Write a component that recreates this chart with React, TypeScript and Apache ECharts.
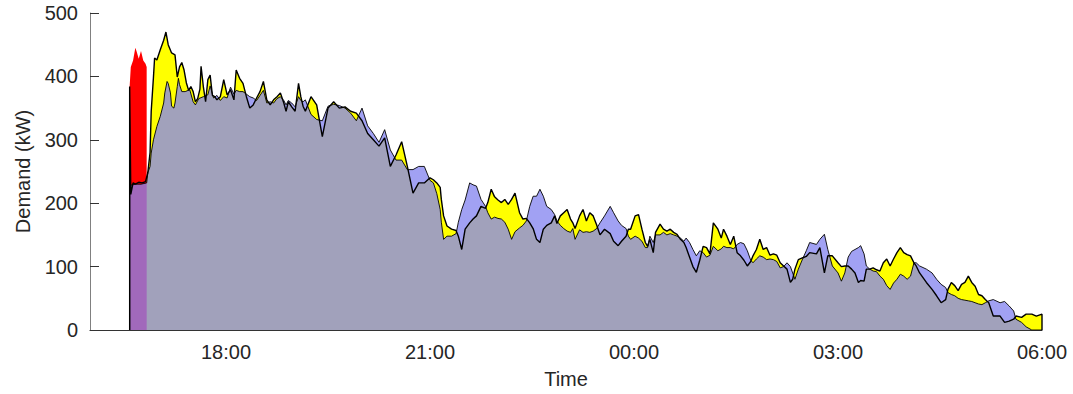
import { useEffect, useRef } from "react";
import * as echarts from "echarts";

// Readings are [minutes after 16:00, kW]

// Uncontrolled charging demand (yellow, black outline)
const demand: [number, number][] = [
  [35, 0], [35, 384], [36, 214], [38, 232], [40, 230], [43, 233], [46, 232], [49, 234], [51, 248], [53, 280],
  [54, 345], [56, 399], [57, 429], [59, 426], [62, 442], [65, 457], [67, 470], [69, 450], [72, 437], [75, 434],
  [77, 399], [79, 415], [81, 422], [83, 410], [85, 390], [87, 378], [89, 384], [91, 376], [93, 360], [95, 365],
  [97, 380], [98, 416], [100, 384], [102, 360], [104, 395], [106, 402], [108, 370], [110, 368], [112, 363], [115, 368],
  [118, 395], [121, 371], [124, 379], [127, 363], [129, 410], [132, 397], [135, 389], [138, 368], [141, 350], [144, 355],
  [147, 366], [150, 376], [153, 392], [156, 363], [159, 355], [162, 363], [165, 368], [168, 374], [171, 358], [173, 345],
  [175, 360], [178, 352], [181, 345], [184, 389], [186, 368], [188, 353], [190, 345], [195, 368], [200, 355], [205, 305],
  [210, 350], [215, 360], [220, 350], [225, 352], [230, 345], [235, 342], [240, 330], [245, 310], [250, 300], [255, 290],
  [260, 303], [265, 258], [270, 276], [275, 297], [280, 258], [285, 216], [290, 232], [295, 232], [300, 240], [303, 237],
  [306, 232], [309, 225], [310, 206], [312, 180], [315, 164], [319, 159], [323, 157], [325, 148], [328, 127], [331, 159],
  [335, 169], [338, 175], [341, 180], [345, 195], [349, 192], [351, 201], [354, 222], [357, 210], [360, 205], [363, 201],
  [366, 206], [369, 198], [372, 206], [375, 216], [379, 185], [382, 175], [385, 176], [388, 169], [391, 160], [394, 143],
  [397, 138], [400, 159], [403, 165], [407, 169], [410, 180], [412, 168], [415, 180], [418, 185], [421, 190], [424, 175],
  [426, 169], [428, 160], [432, 180], [435, 190], [438, 172], [441, 185], [444, 180], [447, 166], [450, 150], [454, 159],
  [459, 152], [462, 140], [466, 133], [469, 140], [473, 148], [475, 159], [477, 159], [481, 180], [484, 182], [487, 159],
  [490, 138], [492, 132], [494, 143], [497, 122], [499, 154], [503, 167], [506, 159], [509, 156], [512, 159], [515, 154],
  [518, 151], [521, 143], [524, 138], [526, 130], [529, 115], [532, 100], [535, 91], [538, 110], [541, 132], [544, 130],
  [547, 120], [550, 169], [554, 159], [557, 145], [559, 159], [562, 148], [565, 135], [568, 148], [571, 122], [574, 117],
  [577, 110], [580, 101], [583, 108], [585, 117], [588, 127], [591, 143], [594, 127], [597, 130], [600, 118], [603, 120],
  [606, 118], [609, 106], [612, 101], [615, 96], [618, 75], [620, 80], [622, 96], [625, 111], [629, 114], [632, 116],
  [635, 122], [641, 120], [644, 130], [648, 90], [651, 117], [655, 117], [660, 106], [663, 100], [666, 101], [669, 101],
  [672, 96], [675, 90], [678, 75], [680, 78], [683, 77], [685, 96], [688, 96], [691, 98], [694, 95], [697, 93],
  [700, 106], [703, 112], [706, 101], [709, 112], [712, 122], [715, 130], [718, 122], [721, 119], [724, 117], [727, 106],
  [729, 101], [732, 90], [738, 75], [743, 64], [747, 54], [751, 43], [755, 48], [757, 64], [760, 75], [763, 70],
  [766, 62], [769, 72], [772, 75], [775, 85], [778, 75], [781, 69], [784, 56], [787, 54], [790, 48], [793, 43],
  [797, 22], [803, 22], [807, 12], [811, 14], [815, 17], [817, 22], [822, 20], [826, 25], [831, 25], [835, 22],
  [840, 25], [840, 0],
];

// Managed charging demand (translucent blue, black outline)
const managed: [number, number][] = [
  [35, 0], [35, 228], [40, 230], [45, 230], [50, 232], [51, 248], [53, 258], [54, 279], [56, 300], [59, 321],
  [62, 337], [65, 358], [66, 374], [68, 392], [69, 389], [71, 374], [72, 353], [74, 350], [75, 358], [77, 384],
  [78, 397], [79, 387], [81, 376], [84, 376], [88, 379], [91, 360], [93, 355], [96, 365], [100, 368], [104, 371],
  [106, 385], [109, 366], [112, 370], [115, 362], [118, 368], [121, 366], [124, 383], [127, 372], [129, 378], [132, 376],
  [135, 376], [138, 372], [141, 368], [144, 366], [147, 362], [150, 370], [153, 378], [156, 358], [159, 360], [162, 358],
  [165, 365], [168, 368], [171, 362], [173, 355], [175, 362], [178, 358], [181, 352], [184, 368], [186, 362], [188, 360],
  [190, 363], [195, 340], [200, 332], [205, 330], [210, 353], [215, 356], [220, 354], [225, 350], [230, 342], [235, 330],
  [240, 350], [245, 322], [250, 310], [255, 296], [260, 316], [265, 284], [270, 268], [275, 268], [280, 253], [285, 253],
  [290, 258], [295, 258], [300, 236], [303, 232], [306, 215], [309, 190], [310, 170], [312, 143], [315, 148], [319, 148],
  [323, 152], [325, 170], [328, 190], [331, 205], [335, 232], [338, 229], [341, 227], [345, 206], [349, 195], [351, 185],
  [354, 175], [357, 178], [360, 176], [363, 175], [366, 170], [369, 159], [372, 143], [375, 155], [379, 161], [382, 165],
  [385, 172], [388, 195], [391, 211], [394, 211], [397, 222], [400, 211], [403, 195], [407, 190], [410, 182], [412, 172],
  [415, 165], [418, 160], [421, 156], [424, 154], [426, 160], [428, 143], [432, 158], [435, 154], [438, 155], [441, 154],
  [444, 156], [447, 160], [450, 169], [454, 180], [459, 195], [462, 185], [466, 172], [469, 165], [473, 160], [475, 148],
  [477, 143], [481, 148], [484, 145], [487, 140], [490, 130], [492, 130], [494, 148], [497, 138], [499, 150], [503, 150],
  [506, 154], [509, 150], [512, 152], [515, 150], [518, 148], [521, 145], [524, 140], [526, 145], [529, 138], [532, 127],
  [535, 117], [538, 125], [541, 122], [544, 115], [547, 118], [550, 132], [554, 125], [557, 128], [559, 132], [562, 130],
  [565, 130], [568, 128], [571, 135], [574, 138], [577, 136], [580, 125], [583, 110], [585, 106], [588, 112], [591, 117],
  [594, 115], [597, 111], [600, 112], [603, 111], [606, 108], [609, 98], [612, 100], [615, 106], [618, 100], [620, 90],
  [622, 80], [625, 96], [629, 113], [632, 125], [635, 138], [641, 135], [644, 143], [648, 151], [651, 127], [655, 101],
  [660, 90], [663, 77], [666, 90], [669, 115], [672, 124], [675, 127], [678, 130], [680, 133], [683, 120], [685, 101],
  [688, 96], [691, 93], [694, 92], [697, 85], [700, 80], [703, 70], [706, 64], [709, 74], [712, 80], [715, 88],
  [718, 85], [721, 80], [724, 85], [727, 106], [729, 106], [732, 101], [738, 96], [743, 90], [747, 80], [751, 72],
  [755, 67], [757, 59], [760, 56], [763, 54], [766, 50], [769, 48], [772, 47], [775, 46], [778, 45], [781, 43],
  [784, 41], [787, 40], [790, 43], [793, 46], [797, 48], [803, 43], [807, 45], [811, 38], [815, 30], [817, 17],
  [822, 12], [826, 5], [831, 0], [840, 0],
];

// Start-up peak (red)
const peak: [number, number][] = [
  [35, 385], [36, 415], [38, 425], [40, 445], [41, 440], [43, 428], [45, 440], [47, 425], [49, 420], [50, 415],
];

const timeTicks = ["18:00", "21:00", "00:00", "03:00", "06:00"];
const startHour = 16;

const FONT = "'Liberation Sans', Arial, Helvetica, sans-serif";
const TEXT = "#262626";

function clockLabel(minutes: number): string {
  const total = startHour * 60 + minutes;
  const h = Math.floor(total / 60) % 24;
  const m = Math.round(total % 60);
  return `${String(h).padStart(2, "0")}:${String(m).padStart(2, "0")}`;
}

export default function App() {
  const ref = useRef<HTMLDivElement>(null);

  useEffect(() => {
    if (!ref.current) return;
    const chart = echarts.init(ref.current, undefined, { renderer: "svg" });
    chart.setOption({
      animation: false,
      backgroundColor: "#ffffff",
      grid: { left: 90, right: 31, top: 13, bottom: 63 },
      xAxis: {
        type: "value",
        min: 0,
        max: 840,
        interval: 60,
        name: "Time",
        nameLocation: "middle",
        nameGap: 39,
        nameTextStyle: { fontFamily: FONT, fontSize: 20, color: TEXT },
        axisLine: { show: true, onZero: false, lineStyle: { color: "#333333", width: 1.2 } },
        axisTick: { show: false },
        splitLine: { show: false },
        axisLabel: {
          margin: 12,
          fontFamily: FONT,
          fontSize: 20,
          color: TEXT,
          showMinLabel: true,
          showMaxLabel: true,
          formatter: (v: number) => {
            const label = clockLabel(v);
            return timeTicks.includes(label) ? label : "";
          },
        },
      },
      yAxis: {
        type: "value",
        min: 0,
        max: 500,
        interval: 100,
        name: "Demand (kW)",
        nameLocation: "middle",
        nameGap: 57,
        nameTextStyle: { fontFamily: FONT, fontSize: 20, color: TEXT },
        axisLine: { show: true, lineStyle: { color: "#808080", width: 1 } },
        axisTick: { show: true, inside: true, length: 9, lineStyle: { color: "#333333", width: 1 } },
        splitLine: { show: false },
        axisLabel: { margin: 12, fontFamily: FONT, fontSize: 20, color: TEXT },
      },
      series: [
        {
          name: "demand-fill",
          type: "line",
          data: demand,
          symbol: "none",
          silent: true,
          lineStyle: { opacity: 0, width: 0 },
          areaStyle: { color: "#ffff00", opacity: 1 },
        },
        {
          name: "peak",
          type: "line",
          data: peak,
          symbol: "none",
          silent: true,
          lineStyle: { opacity: 0, width: 0 },
          areaStyle: { color: "#ff0000", opacity: 1 },
        },
        {
          name: "demand-edge",
          type: "line",
          data: demand,
          symbol: "none",
          silent: true,
          lineStyle: { color: "#000000", width: 1.4 },
        },
        {
          name: "managed",
          type: "line",
          data: managed,
          symbol: "none",
          silent: true,
          lineStyle: { color: "#000000", width: 0.9 },
          areaStyle: { color: "rgb(135,135,240)", opacity: 0.78 },
        },
      ],
    });
    return () => chart.dispose();
  }, []);

  return (
    <div
      ref={ref}
      style={{ position: "fixed", left: 0, top: 0, width: 1073, height: 394, background: "#fff" }}
    />
  );
}
